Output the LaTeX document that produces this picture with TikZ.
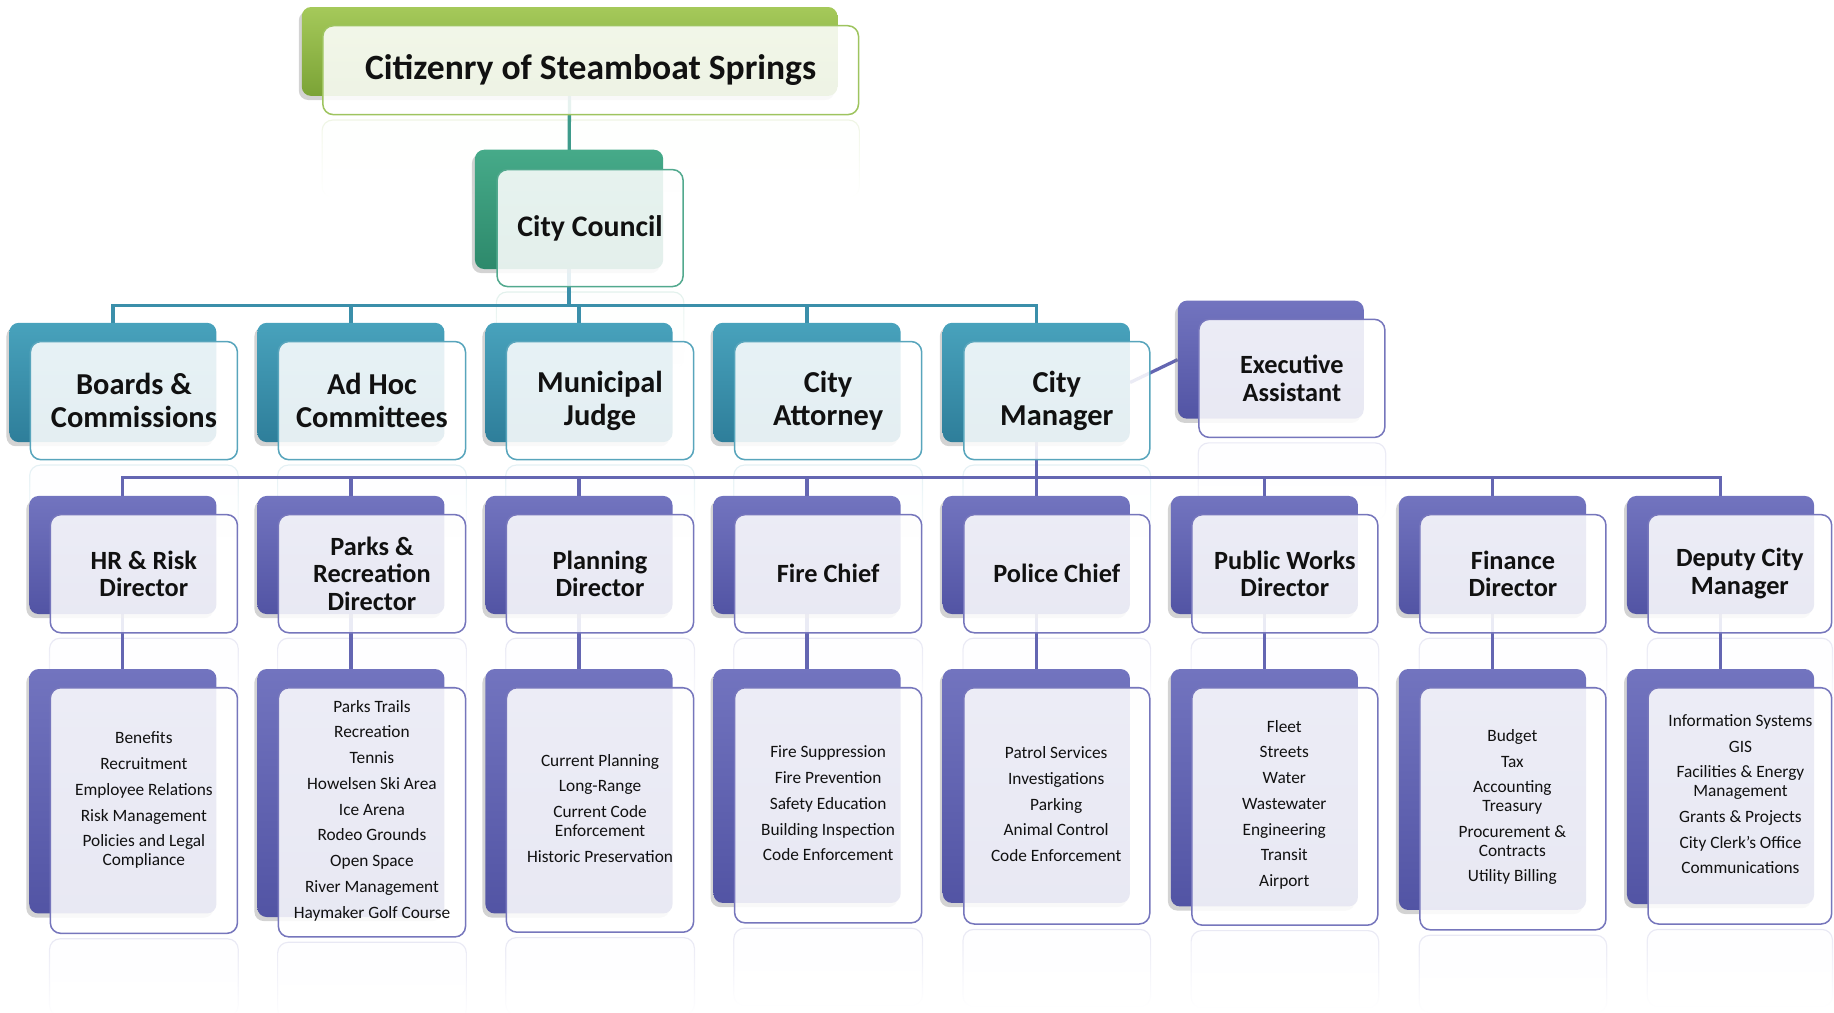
\documentclass[tikz,border=0pt]{standalone}
\usepackage{fontspec}
\setmainfont{Carlito}
\usetikzlibrary{shadows,fit,fadings}

\definecolor{grnA}{HTML}{A5C95A}
\definecolor{grnB}{HTML}{7BA336}
\definecolor{grnE}{HTML}{9EC45F}
\definecolor{tealA}{HTML}{46AA89}
\definecolor{tealB}{HTML}{2D896B}
\definecolor{tealE}{HTML}{52A98E}
\definecolor{blueA}{HTML}{48A2BC}
\definecolor{blueB}{HTML}{2E7E9A}
\definecolor{blueE}{HTML}{58A5BC}
\definecolor{purA}{HTML}{7274BF}
\definecolor{purB}{HTML}{5254A4}
\definecolor{purE}{HTML}{7676BC}
\definecolor{lineG}{HTML}{3E9B8B}
\definecolor{lineB}{HTML}{3B8FAA}
\definecolor{lineP}{HTML}{6466B2}
\definecolor{ink}{HTML}{111111}

\pgfdeclarelayer{glow}
\pgfdeclarelayer{bg}
\pgfsetlayers{glow,bg,main}

\tikzset{
  backbox/.style={fit={#1}, inner sep=0pt, rounded corners=8pt},
  pal/.style={top color=#1A, bottom color=#1B,
    drop shadow={shadow xshift=-2.5pt, shadow yshift=-3.5pt, opacity=0.35}},
  frontbox/.style={draw=#1E, line width=1.3pt, rounded corners=9pt,
    fill=white, fill opacity=0.87, inner sep=0pt},
  lbl/.style={align=center, text=ink, inner sep=0pt},
  titlefont/.style={font=\fontsize{30.4}{34}\selectfont\bfseries},
  ccfont/.style={font=\fontsize{25.5}{28}\selectfont\bfseries},
  rowtwo/.style={font=\fontsize{26}{28}\selectfont\bfseries},
  rowthree/.style={font=\fontsize{22.5}{23.5}\selectfont\bfseries},
  listfont/.style={font=\fontsize{14.8}{16}\selectfont},
  gline/.style={draw=lineG, line width=2.8pt},
  bline/.style={draw=lineB, line width=2.8pt},
  pline/.style={draw=lineP, line width=2.8pt},
  mirror/.style={draw=#1E, line width=1pt, rounded corners=9pt,
    fill=#1E!5, opacity=0.16, path fading=south},
}

% back panel + front card, with a faint reflection underneath:
% name, palette, back corners, front corners
\newcommand{\orgunit}[6]{%
  \node[backbox={(#3) (#4)}, pal=#2] (#1B) {};
  \node[frontbox=#2, fit={(#5) (#6)}] (#1) {};
  \begin{pgfonlayer}{glow}
    \path[mirror=#2] ([yshift=-4pt]#1.south west) rectangle ([yshift=-70pt]#1.south east);
  \end{pgfonlayer}
}

\begin{document}
\begin{tikzpicture}[x=1pt, y=-1pt]
\useasboundingbox (0,0) rectangle (1568,866);

% ---- top levels
\orgunit{title}{grn}{258,6}{716,82}{276,22}{734,98}
\node[lbl, titlefont] (titleT) at (505,60) {Citizenry of Steamboat Springs};

\orgunit{cc}{teal}{406,128}{567,230}{425,145}{584,245}
\node[lbl, ccfont] (ccT) at (cc) {City Council};

% ---- second row
\orgunit{boards}{blue}{8,276}{185,378}{26,292}{203,393}
\orgunit{adhoc}{blue}{220,276}{380,378}{238,292}{398,393}
\orgunit{judge}{blue}{415,276}{575,378}{433,292}{593,393}
\orgunit{atty}{blue}{610,276}{770,378}{628,292}{788,393}
\orgunit{cm}{blue}{806,276}{966,378}{824,292}{983,393}
\orgunit{ea}{pur}{1007,257}{1166,358}{1025,273}{1184,374}
\node[lbl, rowtwo] (boardsT) at (boards) {Boards \&\\Commissions};
\node[lbl, rowtwo] (adhocT) at (adhoc) {Ad Hoc\\Committees};
\node[lbl, rowtwo] (judgeT) at (judge) {Municipal\\Judge};
\node[lbl, rowtwo] (attyT) at (atty) {City\\Attorney};
\node[lbl, rowtwo] (cmT) at (cm) {City\\Manager};
\node[lbl, rowthree] (eaT) at (ea) {Executive\\Assistant};

% ---- third row: directors
\orgunit{hr}{pur}{25,424}{185,525}{43,440}{203,541}
\orgunit{parks}{pur}{220,424}{380,525}{238,440}{398,541}
\orgunit{plan}{pur}{415,424}{575,525}{433,440}{593,541}
\orgunit{fire}{pur}{610,424}{770,525}{628,440}{788,541}
\orgunit{police}{pur}{806,424}{966,525}{824,440}{983,541}
\orgunit{pw}{pur}{1001,424}{1161,525}{1019,440}{1178,541}
\orgunit{fin}{pur}{1196,424}{1356,525}{1214,440}{1373,541}
\orgunit{dep}{pur}{1391,424}{1551,525}{1409,440}{1566,541}
\node[lbl, rowthree] (hrT) at (hr) {HR \& Risk\\Director};
\node[lbl, rowthree] (parksT) at (parks) {Parks \&\\Recreation\\Director};
\node[lbl, rowthree] (planT) at (plan) {Planning\\Director};
\node[lbl, rowthree] (fireT) at (fire) {Fire Chief};
\node[lbl, rowthree] (policeT) at (police) {Police Chief};
\node[lbl, rowthree] (pwT) at (pw) {Public Works\\Director};
\node[lbl, rowthree] (finT) at (fin) {Finance\\Director};
\node[lbl, rowthree] (depT) at (dep) {Deputy City\\Manager};

% ---- fourth row: divisions
\orgunit{hrL}{pur}{25,572}{185,781}{43,588}{203,798}
\orgunit{parksL}{pur}{220,572}{380,784}{238,588}{398,801}
\orgunit{planL}{pur}{415,572}{575,781}{433,588}{593,797}
\orgunit{fireL}{pur}{610,572}{770,772}{628,588}{788,789}
\orgunit{policeL}{pur}{806,572}{966,772}{824,588}{983,790}
\orgunit{pwL}{pur}{1001,572}{1161,775}{1019,588}{1178,791}
\orgunit{finL}{pur}{1196,572}{1356,778}{1214,588}{1373,795}
\orgunit{depL}{pur}{1391,572}{1551,773}{1409,588}{1566,790}

\node[lbl, listfont] (hrLT) at (123,684) {Benefits\\[6pt]Recruitment\\[6pt]Employee Relations\\[6pt]Risk Management\\[6pt]Policies and Legal\\Compliance};
\node[lbl, listfont] (parksLT) at (318,693) {Parks Trails\\[6pt]Recreation\\[6pt]Tennis\\[6pt]Howelsen Ski Area\\[6pt]Ice Arena\\[6pt]Rodeo Grounds\\[6pt]Open Space\\[6pt]River Management\\[6pt]Haymaker Golf Course};
\node[lbl, listfont] (planLT) at (513,691) {Current Planning\\[6pt]Long-Range\\[6pt]Current Code\\Enforcement\\[6pt]Historic Preservation};
\node[lbl, listfont] (fireLT) at (708,687) {Fire Suppression\\[6pt]Fire Prevention\\[6pt]Safety Education\\[6pt]Building Inspection\\[6pt]Code Enforcement};
\node[lbl, listfont] (policeLT) at (903,687.5) {Patrol Services\\[6pt]Investigations\\[6pt]Parking\\[6pt]Animal Control\\[6pt]Code Enforcement};
\node[lbl, listfont] (pwLT) at (1098,688) {Fleet\\[6pt]Streets\\[6pt]Water\\[6pt]Wastewater\\[6pt]Engineering\\[6pt]Transit\\[6pt]Airport};
\node[lbl, listfont] (finLT) at (1293,690) {Budget\\[6pt]Tax\\[6pt]Accounting\\Treasury\\[6pt]Procurement \&\\Contracts\\[6pt]Utility Billing};
\node[lbl, listfont] (depLT) at (1488,679) {Information Systems\\[6pt]GIS\\[6pt]Facilities \& Energy\\Management\\[6pt]Grants \& Projects\\[6pt]City Clerk's Office\\[6pt]Communications};

% ---- connectors, kept beneath the cards
\coordinate (busA) at (0,261);
\coordinate (busB) at (0,408);
\begin{pgfonlayer}{bg}
  \draw[gline] (titleB.center) -- (ccB.center);
  \foreach \n in {boards,adhoc,judge,atty,cm}
    \draw[bline] (ccB.center) -- (ccB.center |- busA) -| (\n B.north);
  \draw[pline] (cmB.east) -- (eaB.west);
  \foreach \n in {hr,parks,plan,fire,police,pw,fin,dep}{
    \draw[pline] (cmB.center) -- (cmB.center |- busB) -| (\n B.north);
    \draw[pline] (\n B.center) -- (\n LB.north);
  }
\end{pgfonlayer}
\end{tikzpicture}
\end{document}
